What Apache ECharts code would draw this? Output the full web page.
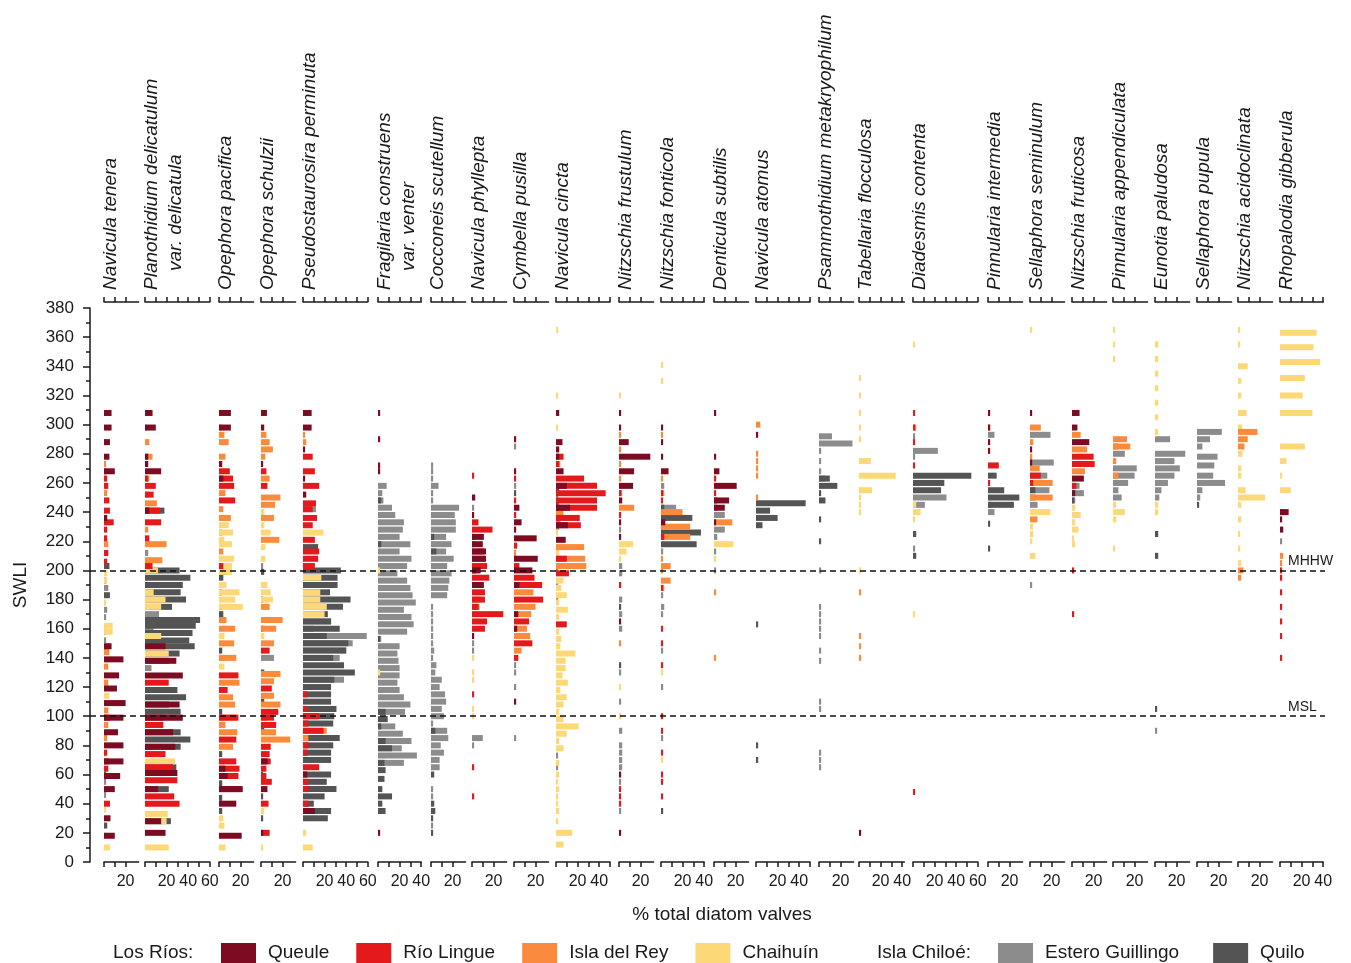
<!DOCTYPE html>
<html>
<head>
<meta charset="utf-8">
<script src="https://cdn.jsdelivr.net/npm/echarts@6/dist/echarts.min.js"></script>
<style>
  html, body { margin: 0; background: #fff; }
  #chart { width: 1351px; height: 963px; }
</style>
</head>
<body>
<div id="chart"></div>
<script>
const FONT = '"Liberation Sans", Arial, sans-serif'

// sites, in legend order
const sites = ['Queule', 'Río Lingue', 'Isla del Rey', 'Chaihuín', 'Estero Guillingo', 'Quilo']
const siteKeys = ['Q', 'R', 'I', 'C', 'E', 'K']
const siteColors = { Q: '#7d0b22', R: '#e3191c', I: '#fb8b3c', C: '#fdd876', E: '#8c8c8c', K: '#545454' }
// back to front
const drawOrder = ['E', 'K', 'C', 'I', 'R', 'Q']

const species = [
  ['Navicula tenera'], ['Planothidium delicatulum', 'var. delicatula'], ['Opephora pacifica'],
  ['Opephora schulzii'], ['Pseudostaurosira perminuta'], ['Fragilaria construens', 'var. venter'],
  ['Cocconeis scutellum'], ['Navicula phyllepta'], ['Cymbella pusilla'], ['Navicula cincta'],
  ['Nitzschia frustulum'], ['Nitzschia fonticola'], ['Denticula subtilis'], ['Navicula atomus'],
  ['Psammothidium metakryophilum'], ['Tabellaria flocculosa'], ['Diadesmis contenta'],
  ['Pinnularia intermedia'], ['Sellaphora seminulum'], ['Nitzschia fruticosa'],
  ['Pinnularia appendiculata'], ['Eunotia paludosa'], ['Sellaphora pupula'],
  ['Nitzschia acidoclinata'], ['Rhopalodia gibberula']
]
// x axis extent (%) and last ticked value of each panel
const axisMax = [32, 60, 32, 32, 60, 40, 32, 32, 32, 50, 32, 40, 32, 50, 32, 42, 60, 32, 32, 32, 32, 32, 32, 32, 40]
const tickTo  = [20, 60, 20, 20, 60, 40, 20, 20, 20, 50, 20, 40, 20, 50, 20, 40, 60, 20, 20, 20, 20, 20, 20, 20, 40]
const swliTicks = { min: 0, max: 380, step: 20 }
const refLines = [{ name: 'MHHW', swli: 200 }, { name: 'MSL', swli: 100 }]

// [SWLI, % of total diatom valves] per site
const navTenera = {
  Q: [[308,7],[298,7],[288,5.5],[278,5],[268,10],[236,3],[148,7],[139,18],[128,14],[119,12],[109,20],[99,18],[89,13],[80,18],[69,18],[59,15],[50,10],[30,6],[18,10]],
  R: [[268,2],[263,3],[258,4],[248,5],[241,5.5],[233,9],[228,3],[222,3],[212,4],[206,3],[99,6],[75,3],[69,5],[64,4],[40,5.5]],
  I: [[288,2],[273,2],[253,3],[218,4],[144,5],[134,4],[123,4],[104,4],[99,3],[94,4],[85,3]],
  C: [[198,3],[193,3],[178,2],[162,8],[158,8],[148,5],[120,3],[114,5],[74,2],[36,2],[18,3],[10,5.5]],
  E: [[188,4],[173,3],[168,2],[152,2],[144,3],[55,2],[46,2]],
  K: [[203,5],[193,2],[183,5.5],[158,2],[60,2],[25,3]]
}
const planDelicatulum = {
  Q: [[308,7],[298,10],[278,3],[273,3],[268,15],[241,4],[148,19],[138,29],[128,35],[108,32],[99,35],[89,26],[79,28],[61,30],[50,12],[28,15],[20,19]],
  R: [[263,3],[258,10],[252,8],[241,14],[233,15],[222,4],[203,7],[138,22],[123,22],[108,22],[99,17],[94,17],[74,19],[65,26],[56,30],[45,27],[40,32]],
  I: [[298,2],[288,4],[278,7],[263,4],[252,3],[246,11],[228,3],[218,20],[207,16],[74,15]],
  C: [[200,12],[185,8],[180,19],[175,15],[155,15],[143,22],[69,28],[33,21],[28,20],[10,22]],
  E: [[241,5],[212,3],[190,3],[170,13],[166,10],[160,8],[133,6]],
  K: [[241,18],[200,32],[195,42],[190,35],[185,33],[180,38],[175,25],[166,51],[162,47],[157,44],[152,41],[148,46],[143,32],[118,30],[113,38],[103,33],[89,33],[84,42],[79,33],[65,29],[50,22],[28,24]]
}
const opePacifica = {
  Q: [[308,11],[298,11],[273,3],[263,4],[64,6],[59,8],[50,22],[40,16],[18,21]],
  R: [[268,10],[263,13],[258,14],[248,15],[203,4],[128,18],[118,8],[99,18],[84,16],[69,16],[64,19],[59,18],[50,20]],
  I: [[298,3],[293,5],[288,9],[278,6],[253,6],[242,4],[236,11],[213,4],[166,7],[160,15],[150,14],[140,16],[123,19],[113,13],[108,15],[99,16],[94,6],[89,17],[79,13]],
  C: [[231,9],[226,13],[221,5],[218,12],[208,14],[203,12],[199,12],[190,7],[185,19],[180,15],[175,22],[155,5],[134,5],[30,4],[25,5],[10,6]],
  E: [[226,3],[140,3]],
  K: [[199,7],[195,4],[185,3],[175,3],[170,4],[145,3],[103,3],[74,3],[54,3],[44,3],[35,3]]
}
const opeSchulzii = {
  Q: [[308,5.5],[298,3],[273,2],[69,6],[50,6],[20,2]],
  R: [[268,5],[258,6],[145,8],[119,10],[103,16],[99,12],[94,14],[79,9],[74,8],[69,9],[64,5],[59,5],[55,10],[40,7],[20,8]],
  I: [[293,5],[288,8],[283,11],[278,4],[263,8],[250,18],[245,13],[236,12],[221,17],[175,8],[166,20],[160,14],[150,12],[129,18],[124,12],[114,12],[108,18],[99,6],[89,14],[84,27]],
  C: [[240,3],[231,3],[226,9],[216,4],[208,4],[190,6],[185,9],[180,11],[155,3],[35,3],[10,2]],
  E: [[203,2],[140,12]],
  K: [[199,3],[180,2],[160,2],[130,3],[110,3],[90,3],[60,2],[45,2],[30,2]]
}
const pseuPerminuta = {
  Q: [[308,8],[298,8],[283,2],[263,2],[252,3],[60,4],[35,11]],
  R: [[278,9],[268,11],[258,15],[246,12],[242,9],[236,13],[231,9],[221,11],[213,15],[208,14],[203,11],[115,4],[105,4],[100,15],[95,5],[90,19],[80,5],[75,4],[65,15],[55,5],[50,5],[40,5]],
  I: [[293,2],[288,3],[90,22],[85,5]],
  C: [[226,19],[195,17],[185,16],[180,16],[175,22],[170,20],[20,3],[10,9]],
  E: [[242,12],[165,26],[160,10],[155,59],[150,46],[145,40],[140,34],[125,38]],
  K: [[216,14],[200,35],[195,32],[190,32],[185,25],[180,44],[175,37],[170,23],[165,26],[160,34],[155,22],[150,42],[145,40],[140,28],[135,38],[130,48],[125,29],[120,26],[115,26],[110,26],[105,31],[100,29],[95,28],[85,34],[80,28],[75,26],[70,26],[60,26],[55,22],[50,31],[45,20],[40,10],[35,26],[30,23]]
}
const fragConstruens = {
  Q: [[308,2],[290,2],[272,2],[268,2],[20,2]],
  C: [[200,2],[130,2]],
  E: [[258,8],[253,4],[248,5],[243,13],[238,16],[233,24],[228,23],[223,20],[218,30],[213,20],[208,31],[203,27],[198,18],[193,27],[188,30],[183,32],[178,35],[173,24],[168,31],[163,33],[158,27],[153,3],[148,20],[143,18],[138,19],[133,20],[128,20],[123,18],[118,20],[113,24],[108,30],[103,25],[93,16],[88,23],[83,31],[78,22],[73,36],[68,24]],
  K: [[248,3],[218,3],[153,2],[103,7],[98,9],[93,3],[83,7],[78,13],[68,6],[63,7],[57,6],[50,4],[45,13],[40,4],[35,7]]
}
const cocScutellum = {
  E: [[272,2],[268,2],[263,2],[258,7],[253,2],[248,2],[243,26],[238,22],[233,23],[228,23],[223,14],[218,19],[213,14],[208,21],[203,15],[198,19],[193,17],[188,16],[183,15],[175,2],[170,2],[165,2],[160,2],[155,2],[150,2],[145,3],[140,2],[135,5],[130,4],[125,10],[120,8],[115,13],[110,14],[105,10],[100,12],[95,2],[90,15],[85,16],[80,9],[75,12],[70,8],[65,8],[50,2],[45,2],[25,2]],
  K: [[223,3],[213,5],[90,4],[60,3],[40,3],[35,4],[30,2],[20,2]]
}
const navPhyllepta = {
  Q: [[250,3],[238,2],[223,11],[218,10],[213,13],[208,13],[200,8],[190,11],[155,2]],
  R: [[265,2],[233,6],[228,19],[213,11],[208,12],[203,14],[200,4],[195,16],[190,5],[185,12],[180,12],[175,6],[170,29],[165,14],[160,12],[115,2],[65,2],[45,2]],
  I: [[180,8]],
  C: [[140,2],[130,2],[125,2],[105,2],[100,2]],
  E: [[243,2],[218,3],[175,7],[150,2],[145,2],[85,10],[80,2]],
  K: [[223,3]]
}
const cymPusilla = {
  Q: [[290,2],[268,2],[243,5],[233,7],[228,2],[222,21],[208,22],[200,17],[190,5],[170,4],[160,3],[110,2]],
  R: [[263,2],[248,2],[238,2],[217,3],[203,5],[195,19],[190,26],[180,27],[165,14],[150,17],[140,4]],
  I: [[212,2],[185,18],[175,20],[170,16],[160,12],[155,15],[145,7]],
  E: [[285,2],[258,2],[135,2],[130,2],[120,2],[85,2]],
  K: [[253,2]]
}
const navCincta = {
  Q: [[308,3],[288,6],[283,3],[278,3],[268,7],[258,10],[243,13],[231,11],[221,9]],
  R: [[278,7],[273,3],[263,26],[258,38],[253,46],[248,38],[243,38],[236,22],[231,23],[208,10],[198,12],[163,10]],
  I: [[273,4],[240,7],[216,26],[208,27],[203,28]],
  C: [[365,2],[320,2],[298,2],[226,2],[212,3],[193,7],[188,5],[183,10],[178,3],[173,11],[168,3],[158,3],[153,5],[148,4],[143,18],[138,9],[133,9],[128,6],[123,11],[118,4],[113,10],[108,7],[103,3],[98,7],[93,21],[88,10],[83,3],[78,7],[68,3],[60,3],[55,2],[50,3],[45,2],[40,2],[35,3],[28,2],[20,15],[12,7]],
  E: [[250,2],[245,3],[240,2],[235,4],[230,3],[200,2],[190,2],[180,2],[73,2],[65,2]],
  K: [[255,3],[245,2]]
}
const nitFrustulum = {
  Q: [[308,2],[298,2],[288,9],[278,29],[268,14],[258,13],[248,3],[233,2],[223,2],[165,2],[60,2],[20,2]],
  R: [[253,2],[238,2],[190,2],[50,2],[45,2],[40,2]],
  I: [[293,2],[283,2],[273,2],[263,2],[243,14],[150,2]],
  C: [[320,2],[218,13],[213,7],[208,2],[120,2],[100,2]],
  E: [[253,3],[228,2],[203,3],[198,3],[190,2],[180,3],[170,3],[160,3],[130,2],[110,2],[90,3],[80,3],[75,3],[70,3],[65,3],[55,2],[35,2]],
  K: [[175,2],[135,2]]
}
const nitFonticola = {
  Q: [[298,2],[288,2],[278,2],[268,7],[233,4]],
  R: [[253,2],[248,2],[223,3],[188,2],[160,2],[150,2],[135,2],[100,2],[90,2],[75,2],[60,2],[55,2],[45,2]],
  I: [[293,2],[263,2],[253,3],[240,20],[230,27],[223,27],[208,2],[203,9],[200,2],[193,9],[188,3]],
  C: [[341,2],[330,2],[130,2],[70,2]],
  E: [[258,3],[243,14],[236,5],[213,2],[183,2],[175,3],[170,2],[145,2],[120,2],[85,2]],
  K: [[243,3],[236,29],[226,37],[218,33],[35,2]]
}
const dentSubtilis = {
  Q: [[308,2],[278,2],[268,5],[258,21],[248,14],[243,10],[233,2]],
  R: [[263,2],[253,2],[248,3],[243,3]],
  I: [[233,17],[185,2],[140,2]],
  C: [[218,18],[208,2]],
  E: [[238,10],[228,10],[223,3],[213,2],[200,2]]
}
const navAtomus = {
  Q: [[293,2]],
  I: [[300,4],[280,2],[275,2],[270,2],[265,2],[250,2]],
  K: [[246,46],[241,13],[236,20],[231,6],[163,2],[80,2],[70,2]]
}
const psamMetakryo = {
  E: [[292,12],[287,31],[282,2],[275,2],[268,2],[263,6],[200,2],[175,2],[170,2],[165,2],[160,2],[155,2],[145,2],[138,2],[110,2],[105,2],[75,2],[70,2],[65,2]],
  K: [[263,10],[258,17],[253,2],[248,6],[235,2],[220,2]]
}
const tabFlocculosa = {
  Q: [[20,2]],
  I: [[185,2],[155,2],[148,2],[140,2]],
  C: [[332,2],[320,2],[308,2],[298,2],[290,2],[275,11],[265,34],[255,12],[250,2],[245,2],[240,2],[200,2]]
}
const diaContenta = {
  R: [[308,2],[298,2],[288,2],[272,2],[48,2]],
  I: [[298,3]],
  C: [[355,2],[245,3],[240,7],[235,2],[170,2]],
  E: [[292,2],[282,23],[278,2],[250,31],[245,11],[215,2]],
  K: [[265,54],[260,29],[255,26],[225,3],[210,3]]
}
const pinIntermedia = {
  Q: [[308,2],[298,2],[288,2],[282,2]],
  R: [[272,10],[260,2]],
  I: [[298,2]],
  E: [[293,6],[245,4],[240,6]],
  K: [[265,8],[255,15],[250,29],[245,24],[232,2],[215,2]]
}
const selSeminulum = {
  Q: [[308,2],[283,2],[274,2]],
  R: [[265,10],[260,3]],
  I: [[298,10],[288,3],[278,2],[270,9],[260,21],[250,21],[235,7]],
  C: [[365,2],[240,19],[230,3],[225,3],[220,2],[210,5]],
  E: [[293,19],[274,22],[265,16],[255,18],[250,5],[245,7],[190,2]],
  K: [[255,5]]
}
const nitFruticosa = {
  Q: [[308,7],[298,5],[288,16],[263,11],[253,3]],
  R: [[278,20],[273,21],[258,4],[200,2],[170,2]],
  I: [[293,8],[283,14],[268,12]],
  C: [[243,3],[238,8],[233,3],[228,6],[222,2],[218,3]],
  E: [[258,7],[253,11],[248,3]],
  K: [[248,2],[238,2]]
}
const pinAppendiculata = {
  I: [[290,13],[285,16],[275,3],[265,5]],
  C: [[365,2],[355,2],[345,2],[245,3],[240,11],[235,3],[215,2]],
  E: [[285,5],[280,11],[270,22],[265,20],[260,14],[255,5],[250,8]]
}
const euPaludosa = {
  C: [[355,3],[345,3],[335,3],[325,3],[315,3],[305,3],[295,3],[245,3],[240,3]],
  E: [[290,14],[280,28],[275,18],[270,23],[265,18],[260,12],[255,6],[250,4],[90,2]],
  K: [[225,3],[210,3],[105,2]]
}
const selPupula = {
  E: [[295,23],[290,12],[285,5],[278,19],[272,16],[265,15],[260,26],[255,5],[250,3]],
  K: [[245,2]]
}
const nitAcidoclinata = {
  I: [[295,18],[290,9],[285,6],[200,5],[195,3]],
  C: [[365,2],[355,2],[340,9],[330,3],[320,3],[308,8],[298,4],[280,4],[270,3],[265,3],[255,7],[250,25],[245,3],[235,3],[225,2],[215,2],[205,3]]
}
const rhoGibberula = {
  Q: [[240,8],[235,2],[228,3]],
  R: [[240,3],[200,2],[195,2],[185,2],[175,2],[165,2],[155,2],[140,2]],
  I: [[210,3],[205,2]],
  C: [[363,34],[353,31],[343,37],[332,23],[320,21],[308,30],[285,23],[275,6],[265,2],[255,10]],
  E: [[220,2]]
}

const panelData = [navTenera, planDelicatulum, opePacifica, opeSchulzii, pseuPerminuta, fragConstruens,
  cocScutellum, navPhyllepta, cymPusilla, navCincta, nitFrustulum, nitFonticola, dentSubtilis, navAtomus,
  psamMetakryo, tabFlocculosa, diaContenta, pinIntermedia, selSeminulum, nitFruticosa, pinAppendiculata,
  euPaludosa, selPupula, nitAcidoclinata, rhoGibberula]

// layout
const panelLeft = [104, 145, 219, 261, 303, 378, 431, 472, 514, 556, 619, 661, 714, 756, 819, 859, 913, 988, 1030, 1072, 1113, 1155, 1197, 1238, 1280]
const PX_PER_PCT = 1.08
const AXIS_X = 90
const PLOT_TOP = 308
const PLOT_H = 554
const BAR_H = 6
const INK = '#1a1a1a'

function barItem(params, api) {
  const swli = api.value(0)
  const pct = api.value(1)
  const a = api.coord([0, swli])
  const b = api.coord([pct, swli])
  return {
    type: 'rect',
    shape: { x: a[0], y: a[1] - BAR_H / 2, width: b[0] - a[0], height: BAR_H },
    style: api.style()
  }
}

function range(from, to, step) {
  const out = []
  for (let v = from; v <= to; v += step) out.push(v)
  return out
}

const grids = []
const xAxes = []
const yAxes = []
const series = []
const graphics = []

panelData.forEach((d, i) => {
  grids.push({ left: panelLeft[i], top: PLOT_TOP, width: axisMax[i] * PX_PER_PCT, height: PLOT_H, outerBoundsMode: 'none' })
  const axisBase = {
    gridIndex: i, type: 'value', min: 0, max: axisMax[i],
    axisLine: { show: true, lineStyle: { color: INK, width: 1.5 } },
    axisTick: { show: true, length: 5, customValues: range(0, tickTo[i], 10), lineStyle: { color: INK, width: 1.5 } },
    splitLine: { show: false }
  }
  xAxes.push({
    ...axisBase, position: 'bottom', offset: 3,
    axisLabel: { show: true, customValues: range(20, tickTo[i], 20), fontSize: 16, color: INK, fontFamily: FONT, margin: 9 }
  })
  xAxes.push({ ...axisBase, position: 'top', offset: 6, axisLabel: { show: false } })
  yAxes.push({ gridIndex: i, type: 'value', min: swliTicks.min, max: swliTicks.max, show: false })

  drawOrder.forEach(k => {
    if (!d[k]) return
    series.push({
      type: 'custom',
      name: sites[siteKeys.indexOf(k)],
      xAxisIndex: 2 * i,
      yAxisIndex: i,
      data: d[k],
      encode: { x: 1, y: 0 },
      clip: false,
      itemStyle: { color: siteColors[k] },
      renderItem: barItem
    })
  })

  species[i].forEach((txt, j) => {
    graphics.push({
      type: 'text',
      x: panelLeft[i] - 3 + j * 24,
      y: 290 - j * 19,
      rotation: Math.PI / 2,
      style: {
        text: txt, fill: INK, fontSize: 19, fontStyle: 'italic', fontFamily: FONT,
        textAlign: 'left', textVerticalAlign: 'top', align: 'left', verticalAlign: 'top'
      }
    })
  })
})

// overlay grid: SWLI axis and the tidal reference lines
const n = panelData.length
grids.push({ left: AXIS_X, top: PLOT_TOP, width: 1235, height: PLOT_H, outerBoundsMode: 'none' })
xAxes.push({ gridIndex: n, type: 'value', min: 0, max: 1, show: false })
yAxes.push({
  gridIndex: n, type: 'value', min: swliTicks.min, max: swliTicks.max, interval: swliTicks.step,
  position: 'left',
  name: 'SWLI', nameLocation: 'middle', nameGap: 60, nameRotate: 90,
  nameTextStyle: { fontSize: 19, color: INK, fontFamily: FONT },
  axisLine: { show: true, lineStyle: { color: INK, width: 1.5 } },
  axisTick: { show: true, length: 7, lineStyle: { color: INK, width: 1.5 } },
  minorTick: { show: true, splitNumber: 2, length: 4, lineStyle: { color: INK, width: 1.5 } },
  axisLabel: { fontSize: 17, color: INK, fontFamily: FONT, margin: 16 },
  splitLine: { show: false }
})
series.push({
  type: 'line',
  xAxisIndex: 2 * n,
  yAxisIndex: n,
  data: [],
  silent: true,
  markLine: {
    symbol: 'none',
    silent: true,
    lineStyle: { color: '#111', width: 1.5, type: [6, 4] },
    label: {
      position: 'insideEndTop', formatter: '{b}', fontSize: 14, color: INK, fontFamily: FONT,
      distance: 2, align: 'left', offset: [-35, 0]
    },
    data: refLines.map(r => ({ name: r.name, yAxis: r.swli }))
  }
})

graphics.push({
  type: 'text', x: 722, y: 915,
  style: { text: '% total diatom valves', fill: INK, fontSize: 19, fontFamily: FONT, textAlign: 'center', textVerticalAlign: 'middle', align: 'center', verticalAlign: 'middle' }
})
graphics.push({
  type: 'text', x: 113, y: 953,
  style: { text: 'Los Ríos:', fill: INK, fontSize: 19, fontFamily: FONT, textAlign: 'left', textVerticalAlign: 'middle', align: 'left', verticalAlign: 'middle' }
})
graphics.push({
  type: 'text', x: 877, y: 953,
  style: { text: 'Isla Chiloé:', fill: INK, fontSize: 19, fontFamily: FONT, textAlign: 'left', textVerticalAlign: 'middle', align: 'left', verticalAlign: 'middle' }
})

const legendBase = {
  top: 943, padding: 0, icon: 'rect', itemWidth: 35, itemHeight: 20, selectedMode: false,
  textStyle: { fontSize: 19, color: INK, fontFamily: FONT, padding: [0, 0, 0, 7] }
}

const chart = echarts.init(document.getElementById('chart'), null, { renderer: 'canvas' })
chart.setOption({
  animation: false,
  backgroundColor: '#fff',
  textStyle: { fontFamily: FONT },
  grid: grids,
  xAxis: xAxes,
  yAxis: yAxes,
  legend: [
    { ...legendBase, left: 221, itemGap: 27, data: sites.slice(0, 4) },
    { ...legendBase, left: 998, itemGap: 34, data: sites.slice(4) }
  ],
  graphic: { elements: graphics },
  series: series
})
</script>
</body>
</html>
